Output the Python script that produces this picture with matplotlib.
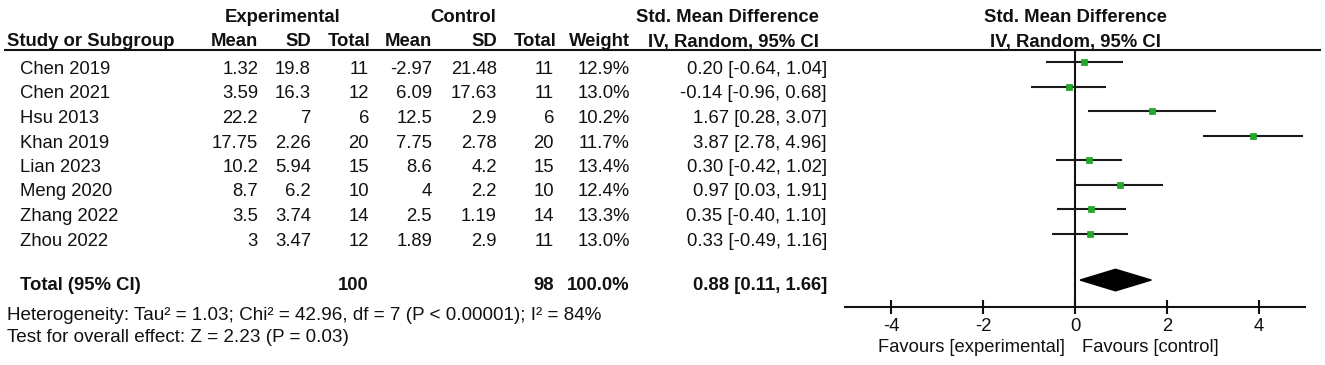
import matplotlib.pyplot as plt
import numpy as np

plt.rcParams['font.family'] = ['Liberation Sans', 'DejaVu Sans']

# study data
studies = ["Chen 2019", "Chen 2021", "Hsu 2013", "Khan 2019",
           "Lian 2023", "Meng 2020", "Zhang 2022", "Zhou 2022"]
exp_mean = [1.32, 3.59, 22.2, 17.75, 10.2, 8.7, 3.5, 3]
exp_sd = [19.8, 16.3, 7, 2.26, 5.94, 6.2, 3.74, 3.47]
exp_n = [11, 12, 6, 20, 15, 10, 14, 12]
ctl_mean = [-2.97, 6.09, 12.5, 7.75, 8.6, 4, 2.5, 1.89]
ctl_sd = [21.48, 17.63, 2.9, 2.78, 4.2, 2.2, 1.19, 2.9]
ctl_n = [11, 11, 6, 20, 15, 10, 14, 11]
weights = [12.9, 13.0, 10.2, 11.7, 13.4, 12.4, 13.3, 13.0]
smd = [0.20, -0.14, 1.67, 3.87, 0.30, 0.97, 0.35, 0.33]
ci_lo = [-0.64, -0.96, 0.28, 2.78, -0.42, 0.03, -0.40, -0.49]
ci_hi = [1.04, 0.68, 3.07, 4.96, 1.02, 1.91, 1.10, 1.16]

# pooled
tot_exp_n = 100
tot_ctl_n = 98
tot_weight = 100.0
tot_smd = 0.88
tot_lo = 0.11
tot_hi = 1.66
het_text = "Heterogeneity: Tau\u00b2 = 1.03; Chi\u00b2 = 42.96, df = 7 (P < 0.00001); I\u00b2 = 84%"
test_text = "Test for overall effect: Z = 2.23 (P = 0.03)"
xticks = [-4, -2, 0, 2, 4]

#%%
W, H = 1325, 365
fig = plt.figure(figsize=(W / 100, H / 100), dpi=100)
tab = fig.add_axes([0, 0, 1, 1])
tab.set_xlim(0, W)
tab.set_ylim(H, 0)
tab.axis('off')

fs = 13.3
col = '#111111'
row_y0, row_dy = 62, 24.5      # pixel centre of first row, row spacing
total_row = 8.9
n = len(studies)

def base(i):
    return row_y0 + row_dy * i + 12

# headers
hb = dict(fontsize=13.3, fontweight='bold', color=col)
tab.text(283, 22.5, "Experimental", ha='center', va='baseline', **hb)
tab.text(463, 22.5, "Control", ha='center', va='baseline', **hb)
tab.text(819, 22.5, "Std. Mean Difference", ha='right', va='baseline', **hb)
tab.text(1075, 22.5, "Std. Mean Difference", ha='center', va='baseline', **hb)
tab.text(1075, 46.5, "IV, Random, 95% CI", ha='center', va='baseline', **hb)
tab.text(7, 46.5, "Study or Subgroup", ha='left', va='baseline', **hb)
col_x = [258, 311, 370, 432, 497, 556, 630, 819]
col_names = ["Mean", "SD", "Total", "Mean", "SD", "Total", "Weight", "IV, Random, 95% CI"]
for x, name in zip(col_x, col_names):
    tab.text(x, 46.5, name, ha='right', va='baseline', **hb)
tab.hlines(49.5, 4, 1321, color=col, lw=1.5)

# study rows
val_x = [258, 311, 369, 432, 497, 554, 630, 827]
for i in range(n):
    y = base(i)
    cells = [f"{exp_mean[i]:g}", f"{exp_sd[i]:g}", str(exp_n[i]),
             f"{ctl_mean[i]:g}", f"{ctl_sd[i]:g}", str(ctl_n[i]),
             f"{weights[i]:.1f}%",
             f"{smd[i]:.2f} [{ci_lo[i]:.2f}, {ci_hi[i]:.2f}]"]
    tab.text(20, y, studies[i], ha='left', va='baseline', fontsize=fs, color=col)
    for x, c in zip(val_x, cells):
        tab.text(x, y, c, ha='right', va='baseline', fontsize=fs, color=col)

# total row
yt = row_y0 + row_dy * total_row + 10
tab.text(20, yt, "Total (95% CI)", ha='left', va='baseline', **hb)
tab.text(369, yt, str(tot_exp_n), ha='right', va='baseline', **hb)
tab.text(554, yt, str(tot_ctl_n), ha='right', va='baseline', **hb)
tab.text(630, yt, f"{tot_weight:.1f}%", ha='right', va='baseline', **hb)
tab.text(827, yt, f"{tot_smd:.2f} [{tot_lo:.2f}, {tot_hi:.2f}]", ha='right', va='baseline', **hb)
tab.text(7, 320.5, het_text, ha='left', va='baseline', fontsize=13.6, color=col)
tab.text(7, 341.5, test_text, ha='left', va='baseline', fontsize=13.6, color=col)

# favours labels
tab.text(1065, 352, "Favours [experimental]", ha='right', va='baseline', fontsize=13.2, color=col)
tab.text(1082, 352, "Favours [control]", ha='left', va='baseline', fontsize=13.2, color=col)

#%%
# forest plot panel
x_left, x_right, y_top, y_bot = 845, 1305, 49.5, 307
ax = fig.add_axes([x_left / W, 1 - y_bot / H, (x_right - x_left) / W, (y_bot - y_top) / H])
ax.patch.set_alpha(0)
ax.set_xlim(-5, 5)
ax.set_ylim((y_bot - row_y0) / row_dy, (y_top - row_y0) / row_dy)
for s in ['top', 'left', 'right']:
    ax.spines[s].set_visible(False)
ax.spines['bottom'].set_linewidth(1.5)
ax.spines['bottom'].set_color(col)
ax.set_yticks([])
ax.set_xticks(xticks)
ax.set_xticklabels([str(t) for t in xticks])
ax.tick_params(axis='x', direction='inout', length=9.5, width=1.5, color=col,
               labelsize=13.3, labelcolor=col, pad=3)
ax.axvline(0, color=col, lw=1.5)

rows = np.arange(n)
ax.hlines(rows, ci_lo, ci_hi, color='#1a1a1a', lw=1.5, zorder=2)
ms = 4.8 * np.sqrt(np.array(weights) / 13.0)
for r, s, m in zip(rows, smd, ms):
    ax.plot(s, r, 's', color='#22aa2a', ms=m, mec='#1c9a22', mew=0.5, zorder=3)

h = 0.44
ax.fill([tot_lo, tot_smd, tot_hi, tot_smd],
        [total_row, total_row - h, total_row, total_row + h], color='black', zorder=3)

fig.savefig('out.png', dpi=100)
